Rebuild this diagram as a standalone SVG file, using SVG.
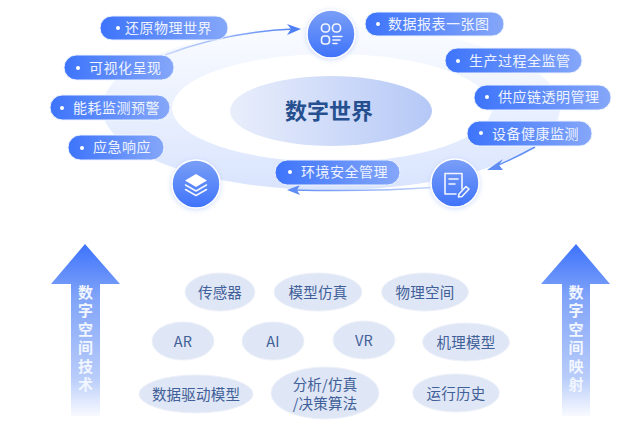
<svg xmlns="http://www.w3.org/2000/svg" width="636" height="431" viewBox="0 0 636 431">
<style>
text{font-family:"Noto Sans CJK SC","Noto Sans",sans-serif}
.p{fill:url(#pill);stroke:#eef3ff;stroke-width:1}
.pt{font-size:14px;fill:#eef3ff;letter-spacing:.5px}
.d{fill:#fff}
.e{fill:#dfe6f5;stroke:#edf1fa;stroke-width:1}
.et{font-size:14.5px;fill:#3f6098;text-anchor:middle;letter-spacing:.2px}
.c{fill:url(#circ);stroke:#fff;stroke-width:1.5;filter:url(#glow)}
.i{fill:none;stroke:#fff;stroke-width:1.6;stroke-linecap:round;stroke-linejoin:round;opacity:.92}
.a{fill:url(#up)}
.at{font-size:15px;font-weight:700;fill:#f2f6ff;writing-mode:vertical-rl;text-orientation:upright;letter-spacing:3.5px}
</style>
<defs>
<linearGradient id="pill" x1="0" x2="1" y1="0" y2="0"><stop offset="0" stop-color="#3d74fb"/><stop offset="1" stop-color="#85a7f9"/></linearGradient>
<linearGradient id="ring" x1="0" x2="0" y1="0" y2="1"><stop offset="0" stop-color="#fafcff"/><stop offset="1" stop-color="#d9e4fd"/></linearGradient>
<linearGradient id="core" x1="0" x2="1" y1="0" y2="0"><stop offset="0" stop-color="#e9eefb"/><stop offset="1" stop-color="#b5c8f6"/></linearGradient>
<linearGradient id="circ" x1="0" x2="0" y1="0" y2="1"><stop offset="0" stop-color="#7a9ff7"/><stop offset="1" stop-color="#3f73fa"/></linearGradient>
<linearGradient id="up" gradientUnits="userSpaceOnUse" x1="0" x2="0" y1="244" y2="416"><stop offset="0" stop-color="#3d72fc"/><stop offset=".3" stop-color="#7fa3f8"/><stop offset=".78" stop-color="#b9cdfa"/><stop offset="1" stop-color="#f8faff"/></linearGradient>
<linearGradient id="fade1" gradientUnits="userSpaceOnUse" x1="165" x2="300" y1="55" y2="28"><stop offset="0" stop-color="#c9d8fb"/><stop offset="1" stop-color="#4f80f5"/></linearGradient>
<linearGradient id="fade2" gradientUnits="userSpaceOnUse" x1="440" x2="290" y1="188" y2="190"><stop offset="0" stop-color="#c9d8fb"/><stop offset="1" stop-color="#5f8df5"/></linearGradient>
<filter id="glow" x="-30%" y="-30%" width="160%" height="160%"><feDropShadow dx="0" dy="1" stdDeviation="2.5" flood-color="#b9ccfa" flood-opacity=".7"/></filter>
</defs>
<rect width="636" height="431" fill="#fff"/>
<g id="ring-bg">
<ellipse cx="331" cy="108" rx="229" ry="82" fill="url(#ring)"/>
<ellipse cx="332" cy="108" rx="160" ry="54" fill="#fff"/>
</g>
<g id="core">
<ellipse cx="331" cy="111" rx="101" ry="35" fill="url(#core)"/>
<text x="329" y="119" font-size="22" font-weight="700" fill="#254f8f" text-anchor="middle">数字世界</text>
</g>
<g id="connectors">
<path d="M165 55Q225 32 293 29" fill="none" stroke="url(#fade1)" stroke-width="1.5"/>
<path d="M301 29L287 24L291 29L287 35Z" fill="#4f80f5"/>
<path d="M535 147Q515 158 494 167" fill="none" stroke="#5f8df5" stroke-width="1.5"/>
<path d="M487 170L503 159L499 165L503 170Z" fill="#5f8df5"/>
<path d="M440 187Q370 192 294 190" fill="none" stroke="url(#fade2)" stroke-width="1.5"/>
<path d="M287 190L300 185L297 190L300 195Z" fill="#5f8df5"/>
</g>
<g id="pill-1"><rect class="p" x="100" y="16" width="128" height="24" rx="12"/><circle class="d" cx="118" cy="28" r="2"/><text class="pt" x="125" y="33">还原物理世界</text></g>
<g id="pill-2"><rect class="p" x="64" y="55" width="110" height="25" rx="12.5"/><circle class="d" cx="78" cy="68" r="2"/><text class="pt" x="89" y="73">可视化呈现</text></g>
<g id="pill-3"><rect class="p" x="50" y="95" width="120" height="25" rx="12.5"/><circle class="d" cx="62" cy="108" r="2"/><text class="pt" x="73" y="113">能耗监测预警</text></g>
<g id="pill-4"><rect class="p" x="68" y="135" width="96" height="25" rx="12.5"/><circle class="d" cx="82" cy="148" r="2"/><text class="pt" x="93" y="152">应急响应</text></g>
<g id="pill-5"><rect class="p" x="275" y="160" width="125" height="25" rx="12.5"/><circle class="d" cx="290" cy="172" r="2"/><text class="pt" x="301" y="177">环境安全管理</text></g>
<g id="pill-6"><rect class="p" x="365" y="12" width="139" height="24" rx="12"/><circle class="d" cx="378" cy="24" r="2"/><text class="pt" x="388" y="29">数据报表一张图</text></g>
<g id="pill-7"><rect class="p" x="445" y="48" width="137" height="25" rx="12.5"/><circle class="d" cx="458" cy="61" r="2"/><text class="pt" x="469" y="66">生产过程全监管</text></g>
<g id="pill-8"><rect class="p" x="474" y="85" width="137" height="25" rx="12.5"/><circle class="d" cx="487" cy="97" r="2"/><text class="pt" x="498" y="102">供应链透明管理</text></g>
<g id="pill-9"><rect class="p" x="467" y="121" width="125" height="25" rx="12.5"/><circle class="d" cx="481" cy="133" r="2"/><text class="pt" x="492" y="139">设备健康监测</text></g>
<g id="icon-top"><circle class="c" cx="331" cy="34" r="24"/>
<g class="i"><rect x="321.500" y="24" width="8" height="8" rx="3.500"/><rect x="332.500" y="24" width="8" height="8" rx="3.500"/><rect x="321.500" y="36" width="8" height="8" rx="3"/><path d="M333 36.500H342M333 40H340M333 43.500H337"/></g></g>
<g id="icon-left"><circle class="c" cx="196" cy="184" r="24"/>
<path d="M196 174L207 180.500L196 187L185 180.500Z" fill="#fff"/>
<path class="i" d="M185.500 185L196 191L206.500 185M185.500 189.500L196 195.500L206.500 189.500"/></g>
<g id="icon-right"><circle class="c" cx="455" cy="183" r="24"/>
<g class="i"><path d="M462 189V173.500H445V194H456"/><path d="M449 179H458M449 184H455"/><path d="M459 194L466 186.500L469 189L462 196.500L458.500 197Z"/></g></g>
<g id="arrow-left"><path class="a" d="M85 244L120 284H100V416H71V284H51Z"/>
<text class="at" x="85.500" y="284.500">数字空间技术</text></g>
<g id="arrow-right"><path class="a" d="M576 244L610 284H590V416H562V284H541Z"/>
<text class="at" x="576" y="284.500">数字空间映射</text></g>
<g id="n1"><ellipse class="e" cx="220" cy="292" rx="35" ry="19"/><text class="et" x="220" y="298">传感器</text></g>
<g id="n2"><ellipse class="e" cx="318" cy="292" rx="44" ry="19"/><text class="et" x="318" y="298">模型仿真</text></g>
<g id="n3"><ellipse class="e" cx="425" cy="292" rx="43.500" ry="19"/><text class="et" x="425" y="298">物理空间</text></g>
<g id="n4"><ellipse class="e" cx="183" cy="341" rx="31" ry="19"/><text class="et" x="183" y="347">AR</text></g>
<g id="n5"><ellipse class="e" cx="273" cy="341" rx="31" ry="19"/><text class="et" x="273" y="347">AI</text></g>
<g id="n6"><ellipse class="e" cx="364" cy="340" rx="31" ry="19"/><text class="et" x="364" y="346">VR</text></g>
<g id="n7"><ellipse class="e" cx="466" cy="342" rx="43.500" ry="19"/><text class="et" x="466" y="348">机理模型</text></g>
<g id="n8"><ellipse class="e" cx="196" cy="394" rx="57" ry="19"/><text class="et" x="196" y="400">数据驱动模型</text></g>
<g id="n9"><ellipse class="e" cx="325" cy="393" rx="54" ry="26"/><text class="et" x="325" y="390">分析/仿真</text><text class="et" x="325" y="409">/决策算法</text></g>
<g id="n10"><ellipse class="e" cx="456" cy="393" rx="43.500" ry="19"/><text class="et" x="456" y="399">运行历史</text></g>
</svg>
